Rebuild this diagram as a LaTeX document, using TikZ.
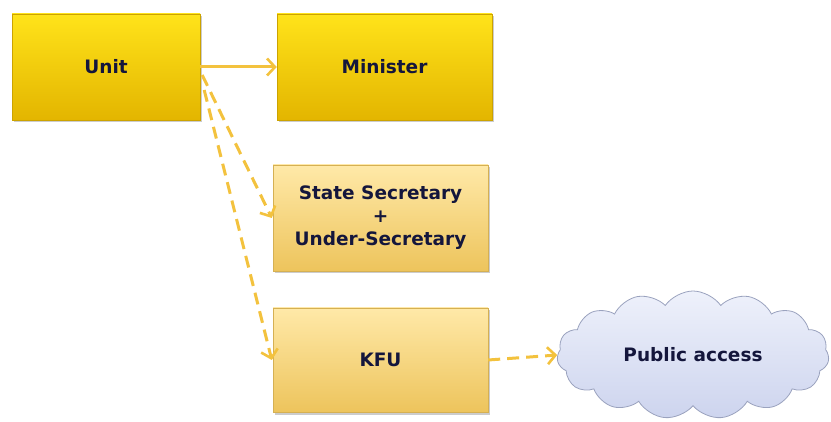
\documentclass[tikz,border=0pt]{standalone}
\usepackage{fontspec}
\setmainfont{DejaVu Sans}
\usetikzlibrary{arrows.meta,shapes.symbols,shadows,calc}
\definecolor{goldtop}{HTML}{FFE31A}
\definecolor{goldbot}{HTML}{E3B500}
\definecolor{lighttop}{HTML}{FFE9A8}
\definecolor{lightbot}{HTML}{EDC45C}
\definecolor{txt}{HTML}{14163C}
\definecolor{arrowc}{HTML}{F3C23E}
\definecolor{cloudtop}{HTML}{EEF1FB}
\definecolor{cloudbot}{HTML}{CDD4EE}
\definecolor{cloudedge}{HTML}{9AA2BE}
\tikzset{
  boxbase/.style={rectangle, inner sep=2pt, text=txt, font=\fontsize{18.5}{23}\selectfont\bfseries, align=center,
    drop shadow={shadow xshift=2pt, shadow yshift=-2.5pt, opacity=0.4}},
  goldbox/.style={boxbase, top color=goldtop, bottom color=goldbot, draw=goldbot!90!black, line width=0.4pt},
  lightbox/.style={boxbase, top color=lighttop, bottom color=lightbot, draw=lightbot!90!black, line width=0.4pt},
  conn/.style={draw=arrowc, line width=3pt, -{Straight Barb[length=8pt,width=17pt,line width=2.6pt]}},
  dconn/.style={conn, dash pattern=on 12pt off 7pt},
  cloudshape/.style={cloud, cloud puffs=15, cloud puff arc=110, aspect=2.2, draw=cloudedge, line width=0.8pt,
    top color=cloudtop, bottom color=cloudbot, text=txt, font=\fontsize{18.5}{23}\selectfont\bfseries, inner sep=0pt}
}
\begin{document}
\begin{tikzpicture}[x=1pt,y=-1pt]
\useasboundingbox (0,0) rectangle (831,422);
\node[goldbox, minimum width=188pt, minimum height=106pt] (unit) at (106,67) {Unit};
\node[goldbox, minimum width=215pt, minimum height=106pt] (minister) at (384.5,67) {Minister};
\node[lightbox, minimum width=215pt, minimum height=106pt] (state) at (380.5,218) {State Secretary\\+\\Under-Secretary};
\node[lightbox, minimum width=215pt, minimum height=104pt] (kfu) at (380.5,360) {KFU};
\node[cloudshape, minimum width=272pt, minimum height=128pt] (cloudn) at (693,355) {Public access};
\coordinate (s1) at ($(unit.east)+(2,8)$);
\coordinate (s2) at ($(unit.east)+(4,23)$);
\draw[conn] (unit.east) -- (minister.west);
\draw[dconn] (s1) -- ($(state.west)+(-1,0)$);
\draw[dconn] (s2) -- ($(kfu.west)+(-1,0)$);
\draw[dconn] (kfu.east) -- (cloudn.west);
\end{tikzpicture}
\end{document}
